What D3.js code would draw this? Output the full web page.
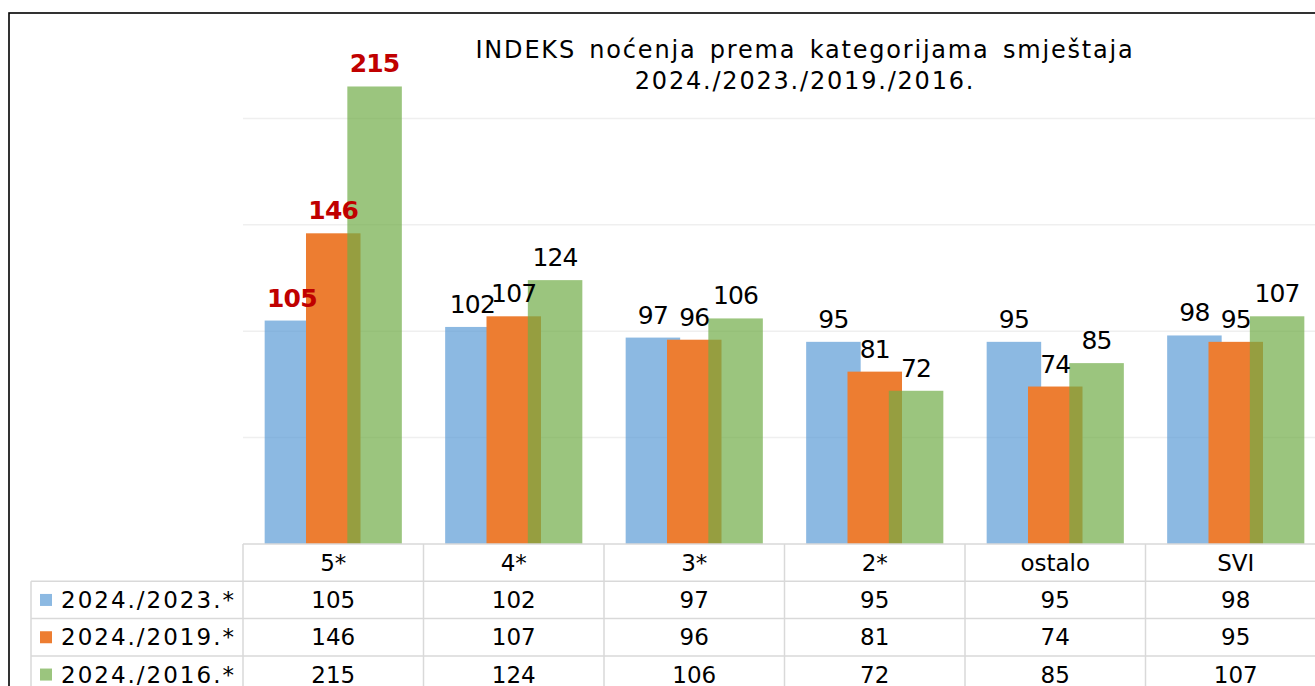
<!DOCTYPE html>
<html>
<head>
<meta charset="utf-8">
<script src="https://cdn.jsdelivr.net/npm/d3@7"></script>
<style>
    body { margin: 0; background: #fff; }
    svg { display: block; font-family: "DejaVu Sans", Verdana, sans-serif; }
</style>
</head>
<body>
<svg id="chart"></svg>
<script>
// Data
const categories = ['5*', '4*', '3*', '2*', 'ostalo', 'SVI'];
const seriesNames = ['2024./2023.*', '2024./2019.*', '2024./2016.*'];
const index2023 = [105, 102, 97, 95, 95, 98];
const index2019 = [146, 107, 96, 81, 74, 95];
const index2016 = [215, 124, 106, 72, 85, 107];
const highlightCategory = '5*';
const titleLines = ['INDEKS noćenja prema kategorijama smještaja', '2024./2023./2019./2016.'];
const yTicks = [50, 100, 150, 200];

class BarTableChart {

    constructor(_config, _data) {
        this.config = {
            parentElement: _config.parentElement,
            containerWidth: _config.containerWidth || 1315,
            containerHeight: _config.containerHeight || 686,
            plot: { left: 243, top: 12, bottom: 544, colWidth: 180.5 },
            rowHeight: 37.3,
            legendLeft: 31
        }
        this.data = _data;
        this.initVis();
    }

    initVis() {
        let vis = this;
        const c = vis.config;

        vis.svg = d3.select(c.parentElement)
            .attr('width', c.containerWidth)
            .attr('height', c.containerHeight);

        vis.xScale = d3.scaleBand()
            .domain(categories)
            .range([c.plot.left, c.plot.left + categories.length * c.plot.colWidth]);

        vis.yScale = d3.scaleLinear()
            .domain([0, 250])
            .range([c.plot.bottom, c.plot.top]);

        // bars overlap a bit, like in the original
        vis.barWidth = vis.xScale.bandwidth() * 0.302;
        vis.seriesScale = d3.scalePoint()
            .domain(seriesNames)
            .range([-vis.xScale.bandwidth() * 0.229, vis.xScale.bandwidth() * 0.229]);

        vis.colors = d3.scaleOrdinal()
            .domain(seriesNames)
            .range(['#5B9BD5', '#ED7D31', '#70AD47']);
        vis.opacity = d3.scaleOrdinal()
            .domain(seriesNames)
            .range([0.7, 1, 0.7]);

        vis.renderVis();
    }

    renderVis() {
        let vis = this;
        const c = vis.config;
        const x1 = c.plot.left + categories.length * c.plot.colWidth;

        // Gridlines
        vis.svg.append('g')
            .selectAll('line')
            .data(yTicks)
            .join('line')
            .attr('x1', c.plot.left)
            .attr('x2', x1)
            .attr('y1', d => vis.yScale(d))
            .attr('y2', d => vis.yScale(d))
            .attr('stroke', '#efefef')
            .attr('stroke-width', 1.5);

        // Bars
        const series = vis.svg.append('g')
            .selectAll('g')
            .data(vis.data)
            .join('g')
            .attr('fill', d => vis.colors(d.name))
            .attr('fill-opacity', d => vis.opacity(d.name));

        series.selectAll('rect')
            .data(d => d.values.map((v, i) => ({ name: d.name, cat: categories[i], val: v })))
            .join('rect')
            .attr('x', d => vis.barX(d) - vis.barWidth / 2)
            .attr('y', d => vis.yScale(d.val))
            .attr('width', vis.barWidth)
            .attr('height', d => vis.yScale(0) - vis.yScale(d.val));

        // Value labels
        const labels = vis.data.flatMap(d => d.values.map((v, i) => ({ name: d.name, cat: categories[i], val: v })));
        vis.svg.append('g')
            .selectAll('text')
            .data(labels)
            .join('text')
            .attr('x', d => vis.barX(d))
            .attr('y', d => vis.yScale(d.val) - 14)
            .attr('text-anchor', 'middle')
            .attr('font-size', 25)
            .attr('letter-spacing', -0.8)
            .attr('font-weight', d => d.cat === highlightCategory ? 'bold' : 'normal')
            .attr('fill', d => d.cat === highlightCategory ? '#C00000' : '#000')
            .text(d => d.val);

        // Title
        vis.svg.append('text')
            .attr('x', 805)
            .attr('y', 58)
            .attr('text-anchor', 'middle')
            .attr('font-size', 24)
            .attr('letter-spacing', 1.8)
            .attr('word-spacing', 4)
            .selectAll('tspan')
            .data(titleLines)
            .join('tspan')
            .attr('x', 805)
            .attr('dy', (d, i) => i === 0 ? 0 : 31)
            .text(d => d);

        // Data table under the axis
        const rh = c.rowHeight;
        const table = vis.svg.append('g');
        const gridColor = '#d9d9d9';

        const hLines = [
            { y: c.plot.bottom, from: c.plot.left },
            { y: c.plot.bottom + rh, from: c.legendLeft },
            { y: c.plot.bottom + 2 * rh, from: c.legendLeft },
            { y: c.plot.bottom + 3 * rh, from: c.legendLeft },
            { y: c.plot.bottom + 4 * rh, from: c.legendLeft }
        ];
        table.selectAll('.hline')
            .data(hLines)
            .join('line')
            .attr('class', 'hline')
            .attr('x1', d => d.from)
            .attr('x2', x1)
            .attr('y1', d => d.y)
            .attr('y2', d => d.y)
            .attr('stroke', gridColor)
            .attr('stroke-width', 1.5);

        const vLines = categories.map(d => ({ x: vis.xScale(d), top: c.plot.bottom }))
            .concat([{ x: x1, top: c.plot.bottom }, { x: c.legendLeft, top: c.plot.bottom + rh }]);
        table.selectAll('.vline')
            .data(vLines)
            .join('line')
            .attr('class', 'vline')
            .attr('x1', d => d.x)
            .attr('x2', d => d.x)
            .attr('y1', d => d.top)
            .attr('y2', c.plot.bottom + 4 * rh)
            .attr('stroke', gridColor)
            .attr('stroke-width', 1.5);

        // category header
        table.selectAll('.cat')
            .data(categories)
            .join('text')
            .attr('class', 'cat')
            .attr('x', d => vis.xScale(d) + vis.xScale.bandwidth() / 2)
            .attr('y', c.plot.bottom + rh / 2 + 8)
            .attr('text-anchor', 'middle')
            .attr('font-size', 23)
            .text(d => d);

        // rows
        const rows = table.selectAll('.row')
            .data(vis.data)
            .join('g')
            .attr('class', 'row')
            .attr('transform', (d, i) => `translate(0, ${c.plot.bottom + rh * (i + 1) + rh / 2})`);

        rows.append('rect')
            .attr('x', 40)
            .attr('y', -6)
            .attr('width', 12)
            .attr('height', 12)
            .attr('fill', d => vis.colors(d.name))
            .attr('fill-opacity', d => vis.opacity(d.name));

        rows.append('text')
            .attr('x', 61)
            .attr('y', 8)
            .attr('font-size', 23)
            .attr('letter-spacing', 2)
            .text(d => d.name);

        rows.selectAll('.val')
            .data(d => d.values.map((v, i) => ({ cat: categories[i], val: v })))
            .join('text')
            .attr('class', 'val')
            .attr('x', d => vis.xScale(d.cat) + vis.xScale.bandwidth() / 2)
            .attr('y', 8)
            .attr('text-anchor', 'middle')
            .attr('font-size', 23)
            .text(d => d.val);

        // Outer frame (runs off the right and bottom edge)
        vis.svg.append('rect')
            .attr('x', 9)
            .attr('y', 13)
            .attr('width', c.containerWidth + 20)
            .attr('height', c.containerHeight + 20)
            .attr('fill', 'none')
            .attr('stroke', '#000')
            .attr('stroke-width', 1.6);
    }

    barX(d) {
        return this.xScale(d.cat) + this.xScale.bandwidth() / 2 + this.seriesScale(d.name);
    }
}

const data = [
    { name: seriesNames[0], values: index2023 },
    { name: seriesNames[1], values: index2019 },
    { name: seriesNames[2], values: index2016 }
];

new BarTableChart({ parentElement: '#chart' }, data);
</script>
</body>
</html>
